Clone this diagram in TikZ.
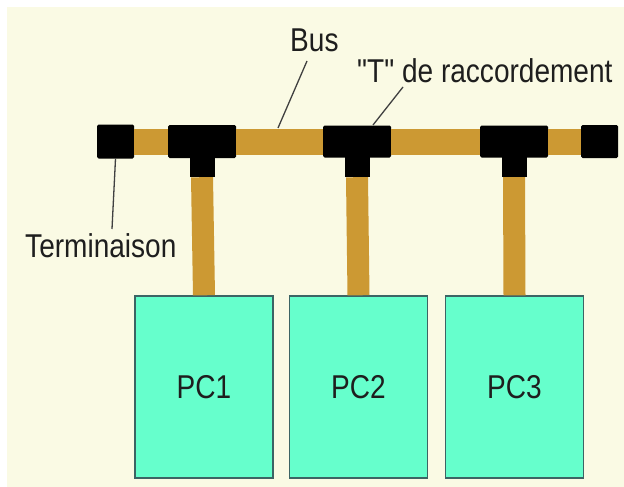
\documentclass[tikz,border=0pt]{standalone}
\usepackage{fontspec}
\newfontfamily\lab{Liberation Sans}[FakeStretch=0.85]
\usetikzlibrary{calc}
\definecolor{cream}{RGB}{250,250,228}
\definecolor{cable}{RGB}{204,153,51}
\definecolor{pcfill}{RGB}{102,255,204}
\definecolor{pcedge}{RGB}{60,100,100}
\definecolor{ink}{RGB}{30,30,30}
\tikzset{
  blk/.style={draw=none,fill=black,rounded corners=1.5pt,inner sep=0pt},
  bus/.style={draw=cable,line width=26pt},
  drop/.style={draw=cable,line width=22pt},
  pcbox/.style={draw=pcedge,line width=1.4pt,fill=pcfill,minimum width=138pt,minimum height=182pt,inner sep=0pt,text=ink,font=\lab\fontsize{33}{36}\selectfont},
  lbl/.style={text=ink,font=\lab\fontsize{33}{36}\selectfont,inner sep=0pt,anchor=base west},
  leader/.style={draw=ink!85,line width=1.3pt}
}
\begin{document}
\begin{tikzpicture}[x=1pt,y=-1pt]
\useasboundingbox (0,0) rectangle (624,487);
\fill[white] (0,0) rectangle (624,487);
\fill[cream] (7,7) rectangle (624,487);
% connectors and terminators
\node[blk,minimum width=37pt,minimum height=34pt] (termL) at (115.5,141.5) {};
\node[blk,minimum width=37pt,minimum height=33pt] (termR) at (599.5,141.5) {};
\node[blk,minimum width=68pt,minimum height=33pt] (T1) at (202,141.5) {};
\node[blk,minimum width=68pt,minimum height=32pt] (T2) at (357,141.5) {};
\node[blk,minimum width=68pt,minimum height=32pt] (T3) at (514,141.5) {};
\node[blk,rounded corners=0pt,minimum width=25pt,minimum height=22pt] (T1s) at (202,166) {};
\node[blk,rounded corners=0pt,minimum width=25pt,minimum height=22pt] (T2s) at (357,166) {};
\node[blk,rounded corners=0pt,minimum width=25pt,minimum height=22pt] (T3s) at (514,166) {};
% PCs
\node[pcbox] (PC1) at (204,387) {PC1};
\node[pcbox] (PC2) at (358.5,387) {PC2};
\node[pcbox] (PC3) at (514.5,387) {PC3};
% bus segments
\draw[bus] (termL.east) -- (T1.west);
\draw[bus] (T1.east) -- (T2.west);
\draw[bus] (T2.east) -- (T3.west);
\draw[bus] (T3.east) -- (termR.west);
% drops
\draw[drop] (T1s.south) -- (PC1.north);
\draw[drop] (T2s.south) -- (PC2.north);
\draw[drop] (T3s.south) -- (PC3.north);
% labels
\node[lbl] (lbus) at (290,52) {Bus};
\node[lbl] (lT) at (357,83) {"T" de raccordement};
\node[lbl] (lterm) at (25,257) {Terminaison};
\coordinate (busA) at (307,61);
\coordinate (busB) at (278,128);
\coordinate (tA) at (403,87);
\coordinate (tB) at (373,125);
\coordinate (termA) at (112,229);
\draw[leader] (busA) -- (busB);
\draw[leader] (tA) -- (tB);
\draw[leader] (termL.south) -- (termA);
\end{tikzpicture}
\end{document}
